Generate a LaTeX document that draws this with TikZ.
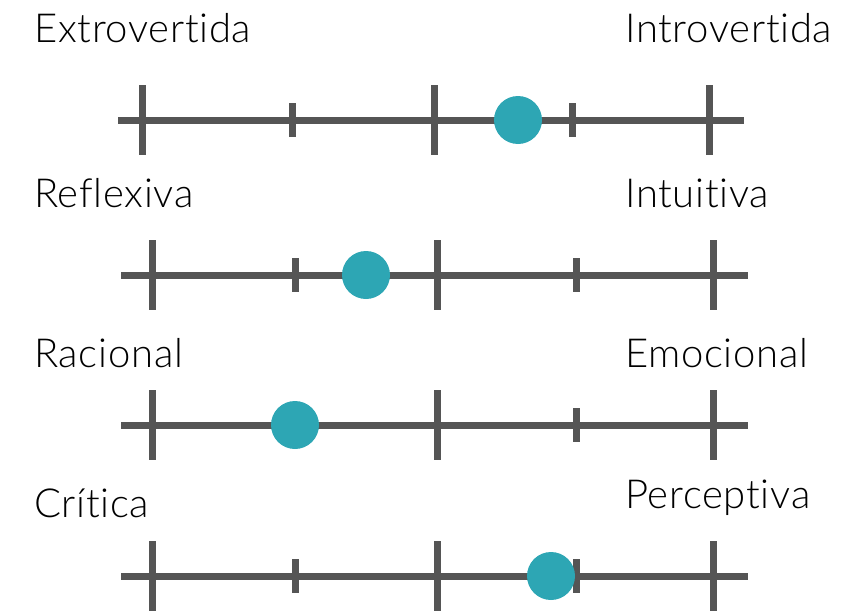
\documentclass[tikz,border=0pt]{standalone}
\usepackage{fontspec}
\setmainfont{Lato}[UprightFont=* Light,Ligatures={NoCommon,NoRequired,NoContextual},LetterSpace=1.8]
\definecolor{axisgray}{RGB}{85,85,85}
\definecolor{dotteal}{RGB}{45,166,180}
\begin{document}
\begin{tikzpicture}[x=1pt,y=-1pt,
  axis/.style={draw=axisgray,line width=7pt},
  majortick/.style={draw=axisgray,line width=7pt},
  minortick/.style={draw=axisgray,line width=7pt},
  dot/.style={circle,fill=dotteal,minimum size=48pt,inner sep=0pt},
  pole/.style={inner sep=0pt,font=\fontsize{40}{47}\selectfont,anchor=base west}]
\useasboundingbox (0,0) rectangle (861,610);

% scale: name, y, line start, line end, major ticks (left, mid, right), minor ticks, dot x
\foreach \n/\y/\xs/\xe/\ma/\mb/\mc/\na/\nb/\d in {
    a/120/118/744/142/434/709/292/572/518,
    b/275/121/748/152/437/713/295/576/366,
    c/425/121/748/152/437/713/295/576/295,
    d/576/121/748/152/437/713/295/576/551}{
  \coordinate (\n s) at (\xs,\y);
  \coordinate (\n e) at (\xe,\y);
  \draw[axis] (\n s) -- (\n e);
  \foreach \t in {\ma,\mb,\mc}
    \draw[majortick] (\t,\y-35) -- (\t,\y+35);
  \foreach \t in {\na,\nb}
    \draw[minortick] (\t,\y-17) -- (\t,\y+17);
  \node[dot] (\n dot) at (\d,\y) {};
}

\node[pole] (l1) at (34,42) {Extrovertida};
\node[pole] (r1) at (625,42) {Introvertida};
\node[pole] (l2) at (34,207) {Reflexiva};
\node[pole] (r2) at (625,207) {Intuitiva};
\node[pole] (l3) at (34,367) {Racional};
\node[pole] (r3) at (625,367) {Emocional};
\node[pole] (l4) at (34,517) {Crítica};
\node[pole] (r4) at (625,508) {Perceptiva};
\end{tikzpicture}
\end{document}
